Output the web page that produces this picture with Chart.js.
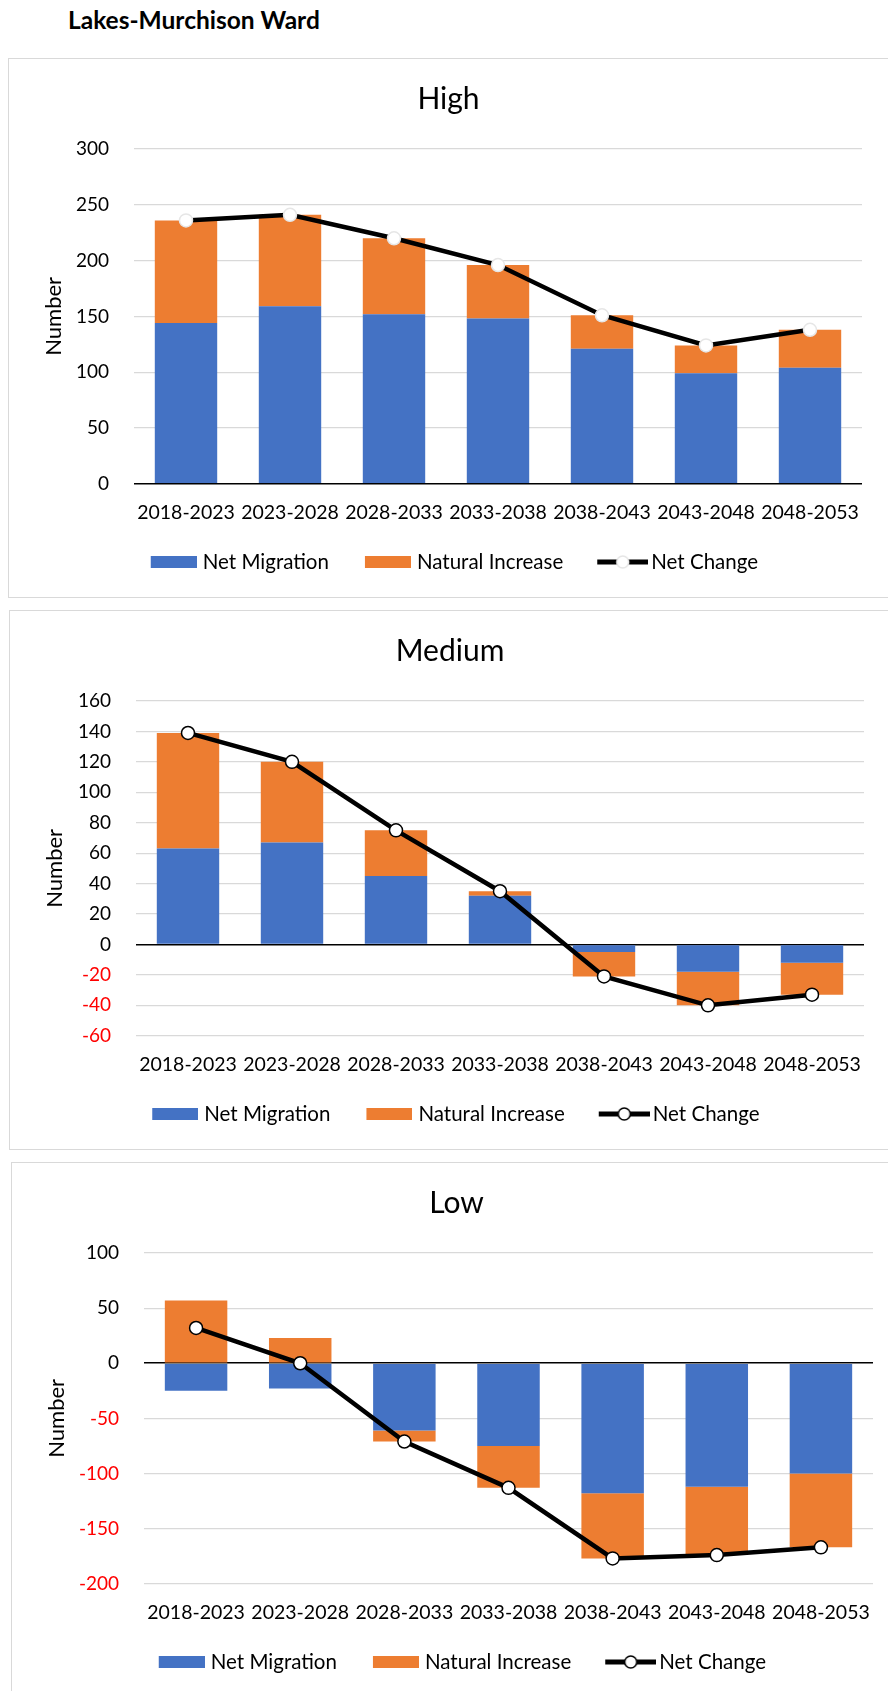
<!DOCTYPE html>
<html>
<head>
<meta charset="utf-8">
<title>Lakes-Murchison Ward</title>
<script src="https://cdn.jsdelivr.net/npm/chart.js@4.4.1/dist/chart.umd.min.js"></script>
<style>
    html, body {
        margin: 0;
        padding: 0;
        width: 888px;
        height: 1691px;
        overflow: hidden;
        background: #fff;
    }
    .page-title {
        position: absolute;
        left: 68px;
        top: 6px;
        font-family: Lato, sans-serif;
        font-weight: bold;
        font-size: 24.5px;
        line-height: 28px;
        color: #000;
    }
    .panel {
        position: absolute;
        border: 1px solid #d9d9d9;
        width: 1000px;
    }
    .panel canvas {
        position: absolute;
        left: 0;
        top: 0;
    }
</style>
</head>
<body>
<div class="page-title">Lakes-Murchison Ward</div>

<div class="panel" style="left:8px; top:58px; height:538px;">
    <canvas id="highChart" width="879" height="538"></canvas>
</div>
<div class="panel" style="left:9px; top:610px; height:538px;">
    <canvas id="mediumChart" width="880" height="538"></canvas>
</div>
<div class="panel" style="left:11px; top:1162px; height:540px;">
    <canvas id="lowChart" width="889" height="534"></canvas>
</div>

<script>
// Chart data
const periods = ['2018-2023', '2023-2028', '2028-2033', '2033-2038', '2038-2043', '2043-2048', '2048-2053'];

const highMigration = [144, 159, 152, 148, 121, 99, 104];
const highNatural = [92, 82, 68, 48, 30, 25, 34];
const highNetChange = [236, 241, 220, 196, 151, 124, 138];
const highTicks = [0, 50, 100, 150, 200, 250, 300];

const mediumMigration = [63, 67, 45, 32, -5, -18, -12];
const mediumNatural = [76, 53, 30, 3, -16, -22, -21];
const mediumNetChange = [139, 120, 75, 35, -21, -40, -33];
const mediumTicks = [-60, -40, -20, 0, 20, 40, 60, 80, 100, 120, 140, 160];

const lowMigration = [-25, -23, -61, -75, -118, -112, -100];
const lowNatural = [57, 23, -10, -38, -59, -62, -67];
const lowNetChange = [32, 0, -71, -113, -177, -174, -167];
const lowTicks = [-200, -150, -100, -50, 0, 50, 100];

const BLUE = '#4472C4';
const ORANGE = '#ED7D31';
const FONT = 'Lato';
const LEGEND_BOX = 53.5;

// Legend symbols: drawn at the right end of a wider transparent canvas so the
// gap between symbol and text is tight while items stay well apart
function boxIcon(color) {
    const c = document.createElement('canvas');
    c.width = 62;
    c.height = 12;
    const ctx = c.getContext('2d');
    ctx.fillStyle = color;
    ctx.fillRect(16, 0, 46, 12);
    return c;
}

function lineIcon(markerBorder) {
    const c = document.createElement('canvas');
    c.width = 68;
    c.height = 16;
    const ctx = c.getContext('2d');
    ctx.strokeStyle = '#000';
    ctx.lineWidth = 5;
    ctx.beginPath();
    ctx.moveTo(17, 8);
    ctx.lineTo(68, 8);
    ctx.stroke();
    ctx.beginPath();
    ctx.arc(42.5, 8, 6, 0, Math.PI * 2);
    ctx.fillStyle = '#fff';
    ctx.fill();
    ctx.lineWidth = 1.5;
    ctx.strokeStyle = markerBorder;
    ctx.stroke();
    return c;
}

function makeChart(id, title, migration, natural, netChange, ticks, markerBorder, yWidth, rightWidth) {
    const icons = [boxIcon(BLUE), boxIcon(ORANGE), lineIcon(markerBorder)];
    const names = ['Net Migration', 'Natural Increase', 'Net Change'];

    return new Chart(document.getElementById(id), {
        type: 'bar',
        data: {
            labels: periods,
            datasets: [{
                label: 'Net Change',
                type: 'line',
                data: netChange,
                stack: 'net',
                order: 0,
                borderColor: '#000',
                borderWidth: 4.5,
                pointRadius: 6.5,
                pointBackgroundColor: '#fff',
                pointBorderColor: markerBorder,
                pointBorderWidth: 1.5,
                tension: 0
            }, {
                label: 'Net Migration',
                data: migration,
                stack: 'bars',
                order: 1,
                backgroundColor: BLUE,
                categoryPercentage: 0.6,
                barPercentage: 1
            }, {
                label: 'Natural Increase',
                data: natural,
                stack: 'bars',
                order: 2,
                backgroundColor: ORANGE,
                categoryPercentage: 0.6,
                barPercentage: 1
            }]
        },
        options: {
            responsive: false,
            animation: false,
            layout: { padding: { top: 0, left: 0, right: 0, bottom: 14.75 } },
            plugins: {
                tooltip: { enabled: false },
                title: {
                    display: true,
                    text: title,
                    color: '#000',
                    font: { family: FONT, size: 30, weight: 'normal' },
                    padding: { top: 22, bottom: 32 }
                },
                legend: {
                    position: 'bottom',
                    labels: {
                        usePointStyle: true,
                        pointStyleWidth: LEGEND_BOX,
                        padding: 24.25,
                        color: '#000',
                        font: { family: FONT, size: 20.5 },
                        generateLabels: () => names.map((name, i) => ({
                            text: name,
                            pointStyle: icons[i],
                            fillStyle: 'transparent',
                            strokeStyle: 'transparent',
                            lineWidth: 0,
                            hidden: false,
                            datasetIndex: i
                        }))
                    }
                }
            },
            scales: {
                x: {
                    stacked: true,
                    grid: { display: false, drawTicks: false },
                    border: { display: false },
                    ticks: {
                        color: '#000',
                        font: { family: FONT, size: 19.5 },
                        padding: 17,
                        maxRotation: 0,
                        autoSkip: false
                    },
                    afterFit: s => { s.height = 43.75; }
                },
                y: {
                    stacked: true,
                    min: ticks[0],
                    max: ticks[ticks.length - 1],
                    afterBuildTicks: s => { s.ticks = ticks.map(v => ({ value: v })); },
                    grid: {
                        drawTicks: false,
                        color: c => c.tick && c.tick.value === 0 ? '#000' : '#d9d9d9',
                        lineWidth: c => c.tick && c.tick.value === 0 ? 1.6 : 1.2
                    },
                    border: { display: false },
                    ticks: {
                        padding: 25,
                        font: { family: FONT, size: 19 },
                        color: c => c.tick.value < 0 ? '#ff0000' : '#000'
                    },
                    title: {
                        display: true,
                        text: 'Number',
                        color: '#000',
                        font: { family: FONT, size: 22 },
                        padding: { top: 31.3, bottom: 0 }
                    },
                    afterFit: s => { s.width = yWidth; }
                },
                spacer: {
                    position: 'right',
                    display: true,
                    grid: { display: false, drawTicks: false },
                    border: { display: false },
                    ticks: { display: false },
                    afterFit: s => { s.width = rightWidth; }
                }
            }
        }
    });
}

makeChart('highChart', 'High', highMigration, highNatural, highNetChange, highTicks, '#e6e6e6', 125, 26);
makeChart('mediumChart', 'Medium', mediumMigration, mediumNatural, mediumNetChange, mediumTicks, '#000', 126, 26);
makeChart('lowChart', 'Low', lowMigration, lowNatural, lowNetChange, lowTicks, '#000', 132, 28);
</script>
</body>
</html>
